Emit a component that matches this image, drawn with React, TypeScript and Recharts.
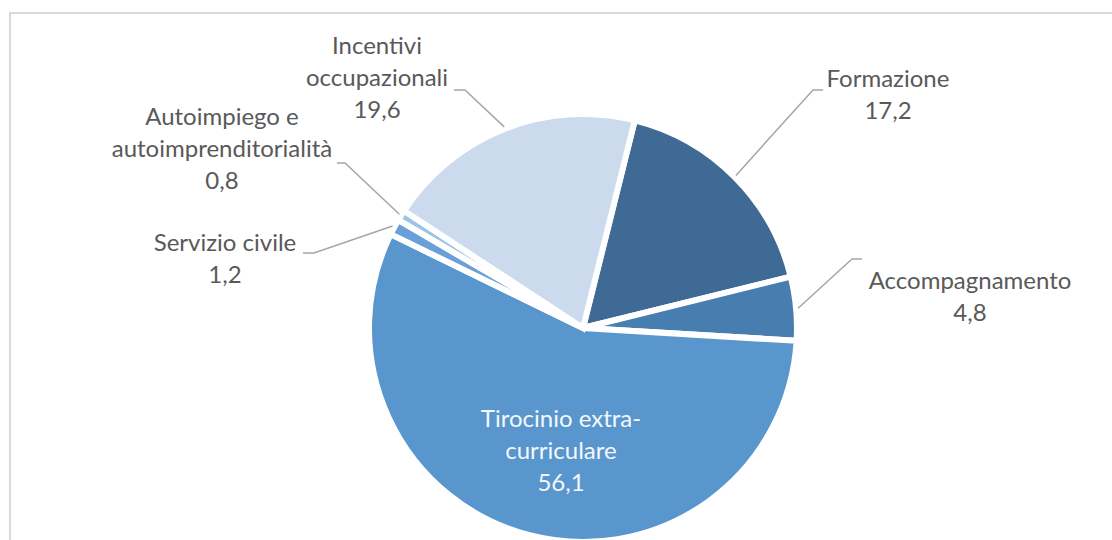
import { Cell, Pie, PieChart } from 'recharts';

const categories = [
  'Formazione',
  'Accompagnamento',
  'Tirocinio extra-curriculare',
  'Servizio civile',
  'Autoimpiego e autoimprenditorialità',
  'Incentivi occupazionali',
];
const shares = [17.2, 4.8, 56.1, 1.2, 0.8, 19.6];
const labelLines = [
  ['Formazione'],
  ['Accompagnamento'],
  ['Tirocinio extra-', 'curriculare'],
  ['Servizio civile'],
  ['Autoimpiego e', 'autoimprenditorialità'],
  ['Incentivi', 'occupazionali'],
];

const colors = ['#3e6a95', '#487db0', '#5896cd', '#6aa0d7', '#9dc2e7', '#ccdaee'];

// label placement relative to pie centre: text centre (tx, first line ty), leader elbow (ex, ey) -> end (lx)
const labelLayout = [
  { tx: 305, ty: -251, ex: 230, ey: -238, lx: 240 },
  { tx: 387, ty: -49, ex: 269, ey: -69, lx: 279 },
  { tx: -22, ty: 89, inside: true },
  { tx: -358, ty: -87, ex: -269, ey: -75, lx: -280 },
  { tx: -361, ty: -213, ex: -238, ey: -165, lx: -246 },
  { tx: -206, ty: -284, ex: -118, ey: -238, lx: -129 },
];

const data = categories.map((name, i) => ({ name, value: shares[i] }));

const RAD = Math.PI / 180;
const LINE_H = 32;

function fmt(v: number) {
  return v.toFixed(1).replace('.', ',');
}

function renderLabel(props: any) {
  const { cx, cy, midAngle, outerRadius, index, value } = props;
  const lay = labelLayout[index];
  const lines = [...labelLines[index], fmt(value)];
  const tx = cx + lay.tx;
  const ty = cy + lay.ty;
  const text = (
    <text
      textAnchor="middle"
      fontFamily="Lato, 'Open Sans', sans-serif"
      fontSize={24}
      fill={lay.inside ? '#f4f7fb' : '#595959'}
    >
      {lines.map((l, k) => (
        <tspan key={k} x={tx} y={ty + k * LINE_H} dominantBaseline="central">
          {l}
        </tspan>
      ))}
    </text>
  );
  if (lay.inside) return <g key={`l${index}`}>{text}</g>;
  const sx = cx + (outerRadius + 2) * Math.cos(-midAngle * RAD);
  const sy = cy + (outerRadius + 2) * Math.sin(-midAngle * RAD);
  const points = `${sx},${sy} ${cx + lay.ex},${cy + lay.ey} ${cx + lay.lx},${cy + lay.ey}`;
  return (
    <g key={`l${index}`}>
      <polyline points={points} fill="none" stroke="#a6a6a6" strokeWidth={1.5} />
      {text}
    </g>
  );
}

export default function App() {
  return (
    <div
      style={{
        position: 'absolute',
        left: 0,
        top: 0,
        width: 1112,
        height: 540,
        overflow: 'hidden',
        background: '#fff',
      }}
    >
      <div
        style={{
          position: 'absolute',
          left: 9,
          top: 12,
          width: 1300,
          height: 700,
          border: '2px solid #d9d9d9',
        }}
      />
      <div style={{ position: 'absolute', left: 0, top: 0 }}>
        <PieChart width={1112} height={540}>
          <Pie
            data={data}
            dataKey="value"
            nameKey="name"
            cx={578}
            cy={323}
            outerRadius={214}
            startAngle={76}
            endAngle={-284}
            stroke="#ffffff"
            strokeWidth={6}
            label={renderLabel}
            labelLine={false}
            isAnimationActive={false}
          >
            {data.map((entry, i) => (
              <Cell key={entry.name} fill={colors[i]} />
            ))}
          </Pie>
        </PieChart>
      </div>
    </div>
  );
}
